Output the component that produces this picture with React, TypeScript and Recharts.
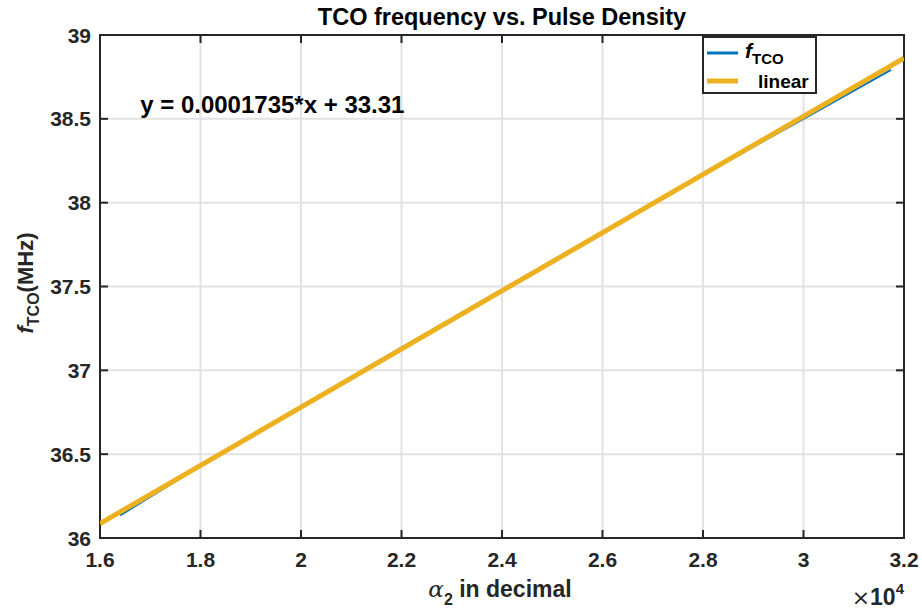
import React from 'react';
import { LineChart, Line, XAxis, YAxis, CartesianGrid, ReferenceArea, ReferenceDot } from 'recharts';

// measured f_TCO curve (pulse density, MHz)
const tcoX = [16400, 18000, 20000, 22000, 24000, 26000, 28000, 30000, 31740];
const tcoY = [36.135, 36.43, 36.785, 37.135, 37.482, 37.826, 38.166, 38.5, 38.792];

// linear fit end points
const fitX = [16000, 32000];
const fitY = [36.086, 38.862];

const xTicks = [16000, 18000, 20000, 22000, 24000, 26000, 28000, 30000, 32000];
const xTickLabels = ['1.6', '1.8', '2', '2.2', '2.4', '2.6', '2.8', '3', '3.2'];
const yTicks = [36, 36.5, 37, 37.5, 38, 38.5, 39];
const yTickLabels = ['36', '36.5', '37', '37.5', '38', '38.5', '39'];

const equation = 'y = 0.0001735*x + 33.31';

const tcoData = tcoX.map((x, i) => ({ x, y: tcoY[i] }));
const fitData = fitX.map((x, i) => ({ x, y: fitY[i] }));

const W = 922;
const H = 612;
const AXIS_W = 60;
const AXIS_H = 30;
const margin = { top: 35, right: 18, left: 100 - AXIS_W, bottom: 74 - AXIS_H };
const PLOT_TOP = margin.top;
const PLOT_RIGHT = W - margin.right;

const FONT = "'Liberation Sans', Arial, Helvetica, sans-serif";
const INK = '#262626';
const BLUE = '#0072BD';
const YELLOW = '#EDB120';

const XTick = (props: any) => {
  const { x, y, payload } = props;
  const i = xTicks.indexOf(payload.value);
  return (
    <g>
      <line x1={x} x2={x} y1={y} y2={y - 8} stroke={INK} strokeWidth={2} />
      <line x1={x} x2={x} y1={PLOT_TOP} y2={PLOT_TOP + 8} stroke={INK} strokeWidth={2} />
      <text x={x} y={y + 29} textAnchor="middle" fontFamily={FONT} fontWeight="bold" fontSize={21} fill={INK}>
        {xTickLabels[i]}
      </text>
    </g>
  );
};

const YTick = (props: any) => {
  const { x, y, payload } = props;
  const i = yTicks.indexOf(payload.value);
  return (
    <g>
      <line x1={x} x2={x + 8} y1={y} y2={y} stroke={INK} strokeWidth={2} />
      <line x1={PLOT_RIGHT - 8} x2={PLOT_RIGHT} y1={y} y2={y} stroke={INK} strokeWidth={2} />
      <text x={x - 9} y={y + 7.5} textAnchor="end" fontFamily={FONT} fontWeight="bold" fontSize={21} fill={INK}>
        {yTickLabels[i]}
      </text>
    </g>
  );
};

const EquationLabel = (props: any) => {
  const { viewBox } = props;
  return (
    <text x={viewBox.x} y={viewBox.y} fontFamily={FONT} fontWeight="bold" fontSize={24} fill="#000">
      {equation}
    </text>
  );
};

export default function App() {
  return (
    <div style={{ position: 'absolute', left: 0, top: 0, width: W, height: H, background: '#fff' }}>
      <LineChart width={W} height={H} margin={margin}>
        <CartesianGrid stroke="#e2e2e2" strokeWidth={2} />
        <XAxis
          dataKey="x"
          type="number"
          domain={[16000, 32000]}
          ticks={xTicks}
          height={AXIS_H}
          axisLine={false}
          tickLine={false}
          tickSize={0}
          tickMargin={0}
          tick={<XTick />}
          interval={0}
          allowDataOverflow
        />
        <YAxis
          type="number"
          domain={[36, 39]}
          ticks={yTicks}
          width={AXIS_W}
          axisLine={false}
          tickLine={false}
          tickSize={0}
          tickMargin={0}
          tick={<YTick />}
          interval={0}
          allowDataOverflow
        />
        <ReferenceArea x1={16000} x2={32000} y1={36} y2={39} fill="none" stroke={INK} strokeWidth={2} />
        <Line data={tcoData} dataKey="y" type="linear" stroke={BLUE} strokeWidth={2} dot={false} isAnimationActive={false} />
        <Line data={fitData} dataKey="y" type="linear" stroke={YELLOW} strokeWidth={5} dot={false} isAnimationActive={false} />
        <ReferenceDot x={16800} y={38.535} r={0} fill="none" stroke="none" label={<EquationLabel />} />
      </LineChart>

      <svg width={W} height={H} style={{ position: 'absolute', left: 0, top: 0, pointerEvents: 'none' }}>
        <text x={502} y={25} textAnchor="middle" fontFamily={FONT} fontWeight="bold" fontSize={23.5} fill="#000">
          TCO frequency vs. Pulse Density
        </text>

        {/* y axis label */}
        <text
          transform="rotate(-90 33 283)"
          x={33}
          y={283}
          textAnchor="middle"
          fontFamily={FONT}
          fontWeight="bold"
          fontSize={22}
          fill={INK}
        >
          <tspan fontStyle="italic">f</tspan>
          <tspan fontSize={16} dy={6}>TCO</tspan>
          <tspan dy={-6}>(MHz)</tspan>
        </text>

        {/* x axis label */}
        <text x={500} y={597} textAnchor="middle" fontFamily={FONT} fontWeight="bold" fontSize={23} fill={INK}>
          <tspan fontFamily="'DejaVu Serif', 'Liberation Serif', serif" fontStyle="italic" fontWeight="normal">α</tspan>
          <tspan fontSize={16} dy={8}>2</tspan>
          <tspan dy={-8}> in decimal</tspan>
        </text>

        <text x={904} y={605} textAnchor="end" fontFamily={FONT} fontWeight="bold" fontSize={23} fill={INK}>
          <tspan fontFamily="'DejaVu Sans', sans-serif" fontWeight="normal" fontSize={22}>×</tspan>
          <tspan>10</tspan>
          <tspan fontSize={15} dy={-11}>4</tspan>
        </text>

        {/* legend */}
        <rect x={703} y={37} width={113} height={56} fill="#fff" stroke={INK} strokeWidth={2} />
        <line x1={707} x2={738} y1={53} y2={53} stroke={BLUE} strokeWidth={3} />
        <line x1={707} x2={738} y1={81} y2={81} stroke={YELLOW} strokeWidth={5} />
        <text x={745} y={58} fontFamily={FONT} fontWeight="bold" fontSize={21} fill="#000">
          <tspan fontStyle="italic">f</tspan>
          <tspan fontSize={15} dy={6}>TCO</tspan>
        </text>
        <text x={758} y={88} fontFamily={FONT} fontWeight="bold" fontSize={19} fill="#000">
          linear
        </text>
      </svg>
    </div>
  );
}
